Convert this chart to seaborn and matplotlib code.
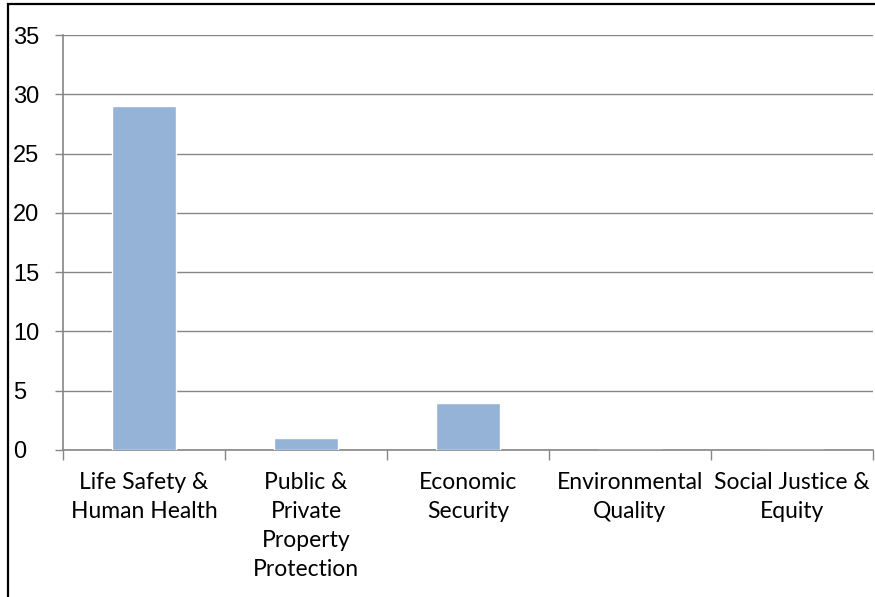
import matplotlib
matplotlib.use("Agg")
import matplotlib.pyplot as plt
import matplotlib.patches as patches
import seaborn as sns
import pandas as pd
import numpy as np

categorias = ["Life Safety &\nHuman Health", "Public &\nPrivate\nProperty\nProtection",
              "Economic\nSecurity", "Environmental\nQuality", "Social Justice &\nEquity"]
valores = [29, 1, 4, 0, 0]
ticks_y = [0, 5, 10, 15, 20, 25, 30, 35]

df = pd.DataFrame({"categoria": categorias, "valor": valores})

sns.set_theme(style="white")
plt.rcParams['font.family'] = ['Liberation Sans', 'DejaVu Sans']

fig = plt.figure(figsize=(8.75, 5.97), dpi=100)
fig.patch.set_facecolor('white')
W, H = 875, 597
ax = fig.add_axes([63 / W, 1 - 450 / H, (873 - 63) / W, (450 - 35) / H])

sns.barplot(data=df, x="categoria", y="valor", color="#95B3D7", saturation=1,
            width=0.4, ax=ax, zorder=3)

ax.set_ylim(0, 35)
ax.set_xlim(-0.5, len(categorias) - 0.5)
ax.set_yticks(ticks_y)
ax.set_yticklabels([str(t) for t in ticks_y], fontsize=17, color='black', ha='left')
ax.tick_params(axis='y', which='major', length=6, width=1, color='#868686',
               direction='out', pad=30, left=True)

# gridlines
ax.grid(axis='y', color='#868686', linewidth=1, zorder=0)
ax.set_axisbelow(True)

# x ticks: labels at centres, marks at boundaries
ax.set_xticks(range(len(categorias)))
ax.set_xticklabels(categorias, fontsize=16.5, family=['Lato', 'DejaVu Sans'],
                   linespacing=1.46, va='top', color='black')
ax.tick_params(axis='x', which='major', length=0, pad=16)
ax.set_xticks(np.arange(-0.5, len(categorias), 1), minor=True)
ax.tick_params(axis='x', which='minor', length=7, width=1, color='#868686',
               direction='out', bottom=True)

ax.set_xlabel("")
ax.set_ylabel("")
for s in ['top', 'right']:
    ax.spines[s].set_visible(False)
for s in ['left', 'bottom']:
    ax.spines[s].set_color('#868686')
    ax.spines[s].set_linewidth(1.2)

# outer frame
fig.patches.append(patches.Rectangle((8 / W, -0.1), 1.0, 1 - 4 / H + 0.1,
                                     transform=fig.transFigure, fill=False,
                                     edgecolor='black', linewidth=1.6))

fig.savefig("out.png", dpi=100)
